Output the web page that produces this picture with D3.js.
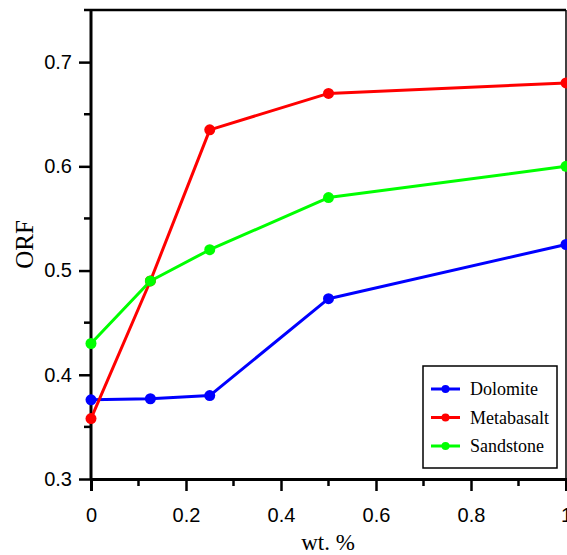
<!DOCTYPE html>
<html>
<head>
<meta charset="utf-8">
<script src="https://cdn.jsdelivr.net/npm/d3@7"></script>
<style>
  html, body { margin: 0; padding: 0; background: #fff; overflow: hidden; }
  svg { display: block; }
</style>
</head>
<body>
<svg id="chart" width="567" height="555"></svg>
<script>
// wt. % loadings
const loadings = [0, 0.125, 0.25, 0.5, 1];

// ORF values per rock type
const dolomite   = [0.376, 0.377, 0.380, 0.473, 0.525];
const metabasalt = [0.358, 0.490, 0.635, 0.670, 0.680];
const sandstone  = [0.430, 0.490, 0.520, 0.570, 0.600];

const seriesNames  = ["Dolomite", "Metabasalt", "Sandstone"];
const seriesColors = ["#0000ff", "#ff0000", "#00ff00"];

const xTicks = [0, 0.2, 0.4, 0.6, 0.8, 1];
const xMinorTicks = [0.1, 0.3, 0.5, 0.7, 0.9];
const yTicks = [0.3, 0.4, 0.5, 0.6, 0.7];
const yMinorTicks = [0.35, 0.45, 0.55, 0.65];

const series = [dolomite, metabasalt, sandstone].map((vals, i) => ({
  name: seriesNames[i],
  color: seriesColors[i],
  points: vals.map((v, j) => ({ x: loadings[j], y: v }))
}));

const svg = d3.select("#chart");
const plotLeft = 91, plotRight = 566, plotTop = 10, plotBottom = 479;

const x = d3.scaleLinear().domain([0, 1]).range([plotLeft, plotRight]);
const y = d3.scaleLinear().domain([0.3, 0.75]).range([plotBottom, plotTop]);

const tickFont = "Liberation Sans, Arial, sans-serif";
const serifFont = "Liberation Serif, Times New Roman, serif";

// frame: top and right edges
svg.append("line").attr("x1", 84).attr("x2", plotRight).attr("y1", plotTop).attr("y2", plotTop)
  .attr("stroke", "#000").attr("stroke-width", 2.5);
svg.append("line").attr("x1", plotRight).attr("x2", plotRight).attr("y1", plotTop).attr("y2", plotBottom)
  .attr("stroke", "#000").attr("stroke-width", 1.5);

// bottom axis
const xAxis = svg.append("g").attr("transform", `translate(0,${plotBottom})`)
  .call(d3.axisBottom(x).tickValues(xTicks).tickSize(12).tickPadding(17)
    .tickFormat(d => d === 0 ? "0" : d === 1 ? "1" : d3.format(".1f")(d)));
xAxis.select(".domain").attr("stroke-width", 3);
xAxis.selectAll(".tick line").attr("stroke-width", 2.5);
xAxis.selectAll(".tick text").attr("font-family", tickFont).attr("font-size", 20).attr("fill", "#000");
xAxis.append("g").selectAll("line").data(xMinorTicks).join("line")
  .attr("x1", d => x(d)).attr("x2", d => x(d)).attr("y1", 0).attr("y2", 7)
  .attr("stroke", "#000").attr("stroke-width", 2.5);

// left axis
const yAxis = svg.append("g").attr("transform", `translate(${plotLeft},0)`)
  .call(d3.axisLeft(y).tickValues(yTicks).tickSize(12).tickPadding(7)
    .tickFormat(d3.format(".1f")));
yAxis.select(".domain").attr("stroke-width", 3).attr("d", `M0,${plotTop}V${plotBottom}`);
yAxis.selectAll(".tick line").attr("stroke-width", 2.5);
yAxis.selectAll(".tick text").attr("font-family", tickFont).attr("font-size", 20).attr("fill", "#000");
yAxis.append("g").selectAll("line").data(yMinorTicks).join("line")
  .attr("x1", 0).attr("x2", -7).attr("y1", d => y(d)).attr("y2", d => y(d))
  .attr("stroke", "#000").attr("stroke-width", 2.5);

// axis titles
svg.append("text").attr("x", 328).attr("y", 550)
  .attr("text-anchor", "middle").attr("font-family", serifFont).attr("font-size", 23)
  .text("wt. %");
svg.append("text").attr("transform", `translate(33,${y(0.525)}) rotate(-90)`)
  .attr("text-anchor", "middle").attr("font-family", serifFont).attr("font-size", 25)
  .text("ORF");

// series lines and markers
const line = d3.line().x(d => x(d.x)).y(d => y(d.y));
const plot = svg.append("g");
series.forEach(s => {
  plot.append("path").datum(s.points).attr("d", line)
    .attr("fill", "none").attr("stroke", s.color).attr("stroke-width", 3)
    .attr("stroke-linejoin", "round");
});
series.forEach(s => {
  plot.append("g").selectAll("circle").data(s.points).join("circle")
    .attr("cx", d => x(d.x)).attr("cy", d => y(d.y)).attr("r", 5.5)
    .attr("fill", s.color);
});

// legend
const legend = svg.append("g");
legend.append("rect").attr("x", 423).attr("y", 366).attr("width", 134).attr("height", 102)
  .attr("fill", "#fff").attr("stroke", "#000").attr("stroke-width", 1.5);
series.forEach((s, i) => {
  const cy = 389 + i * 28.5;
  legend.append("line").attr("x1", 431).attr("x2", 460).attr("y1", cy).attr("y2", cy)
    .attr("stroke", s.color).attr("stroke-width", 3);
  legend.append("circle").attr("cx", 445.5).attr("cy", cy).attr("r", 4).attr("fill", s.color);
  legend.append("text").attr("x", 470).attr("y", cy + 6)
    .attr("font-family", serifFont).attr("font-size", 18).text(s.name);
});
</script>
</body>
</html>
